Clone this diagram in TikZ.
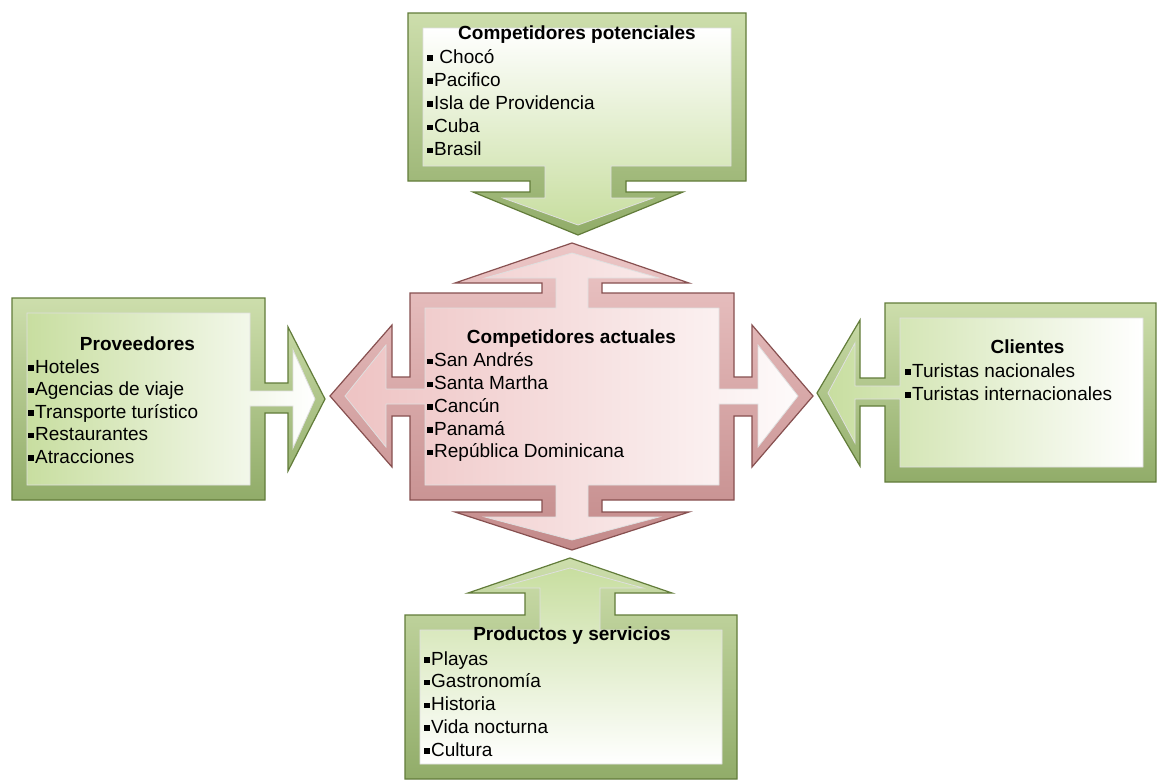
\documentclass[tikz,border=0pt]{standalone}
\usepackage{fontspec}
\setmainfont{Liberation Sans}
\definecolor{gFace}{RGB}{200,222,160}
\definecolor{gB1}{RGB}{205,222,172}
\definecolor{gB2}{RGB}{145,172,105}
\definecolor{gDark}{RGB}{98,124,58}
\definecolor{pFace}{RGB}{238,195,195}
\definecolor{pB1}{RGB}{236,198,198}
\definecolor{pB2}{RGB}{195,138,138}
\definecolor{pDark}{RGB}{135,80,80}
\newcommand{\bq}{\rule[2.5pt]{5.5pt}{5.5pt}\hspace{1.5pt}}
\tikzset{
  gout/.style={top color=gB1, bottom color=gB2, draw=gDark, line width=1.2pt, line join=miter},
  pout/.style={top color=pB1, bottom color=pB2, draw=pDark, line width=1.2pt, line join=miter},
  facebd/.style={draw=white!75!gray, line width=0.8pt, line join=miter},
  ttl/.style={font=\fontsize{19}{23}\selectfont\bfseries, anchor=base, inner sep=0pt},
  itm/.style={font=\fontsize{19}{23}\selectfont, anchor=base west, inner sep=0pt},
}
\begin{document}
\begin{tikzpicture}[x=1pt,y=-1pt]
\useasboundingbox[fill=white] (0,0) rectangle (1157,780);

% ---------- top callout: Competidores potenciales
\path[gout] (408,13) -- (746,13) -- (746,181) -- (626,181) -- (626,192) -- (683,192)
  -- (578,235) -- (473,192) -- (530,192) -- (530,181) -- (408,181) -- cycle;
\path[facebd, top color=white, bottom color=gFace] (423,28) -- (731,28) -- (731,166) -- (611,166)
  -- (611,198) -- (653,198) -- (578,225) -- (503,198) -- (545,198) -- (545,166) -- (423,166) -- cycle;

% ---------- left callout: Proveedores
\path[gout] (12,298) -- (265,298) -- (265,383) -- (288,383) -- (288,327) -- (325,399)
  -- (288,471) -- (288,413) -- (265,413) -- (265,500) -- (12,500) -- cycle;
\path[facebd, left color=gFace, right color=white] (27,313) -- (250,313) -- (250,391) -- (293,391)
  -- (293,350) -- (315,399) -- (293,448) -- (293,406) -- (250,406) -- (250,485) -- (27,485) -- cycle;

% ---------- right callout: Clientes
\path[gout] (885,303) -- (1156,303) -- (1156,482) -- (885,482) -- (885,406) -- (860,406)
  -- (860,466) -- (817,393) -- (860,320) -- (860,378) -- (885,378) -- cycle;
\path[facebd, left color=gFace, right color=white] (900,318) -- (1143,318) -- (1143,467) -- (900,467)
  -- (900,399) -- (855,399) -- (855,443) -- (828,393) -- (855,343) -- (855,386) -- (900,386) -- cycle;

% ---------- bottom callout: Productos y servicios
\path[gout] (405,615) -- (525,615) -- (525,593) -- (468,593) -- (570,558) -- (672,593)
  -- (615,593) -- (615,615) -- (737,615) -- (737,779) -- (405,779) -- cycle;
\path[facebd, top color=gFace, bottom color=white] (420,630) -- (540,630) -- (540,588) -- (497,588)
  -- (570,568) -- (643,588) -- (600,588) -- (600,630) -- (722,630) -- (722,764) -- (420,764) -- cycle;

% ---------- centre: Competidores actuales
\path[pout] (410,293) -- (542,293) -- (542,283) -- (455,283) -- (572,243) -- (689,283)
  -- (602,283) -- (602,293) -- (734,293) -- (734,377) -- (752,377) -- (752,325) -- (813,396)
  -- (752,467) -- (752,416) -- (734,416) -- (734,500) -- (602,500) -- (602,512) -- (689,512)
  -- (572,550) -- (455,512) -- (542,512) -- (542,500) -- (410,500) -- (410,416) -- (392,416)
  -- (392,467) -- (330,396) -- (392,325) -- (392,377) -- (410,377) -- cycle;
\path[facebd, left color=pFace, right color=white!92!pFace] (425,308) -- (556,308) -- (556,278) -- (485,278)
  -- (572,253) -- (659,278) -- (588,278) -- (588,308) -- (719,308) -- (719,389) -- (758,389)
  -- (758,345) -- (798,396) -- (758,447) -- (758,404) -- (719,404) -- (719,485) -- (588,485)
  -- (588,517) -- (659,517) -- (572,540) -- (485,517) -- (556,517) -- (556,485) -- (425,485)
  -- (425,404) -- (386,404) -- (386,447) -- (345,396) -- (386,345) -- (386,389) -- (425,389) -- cycle;

% ---------- texts
\node[ttl] (tT) at (577,39) {Competidores potenciales};
\node[itm] (t1) at (427,63) {\bq\ Chocó};
\node[itm] (t2) at (427,86.2) {\bq Pacifico};
\node[itm] (t3) at (427,109.4) {\bq Isla de Providencia};
\node[itm] (t4) at (427,132.6) {\bq Cuba};
\node[itm] (t5) at (427,155.8) {\bq Brasil};

\node[ttl] (cT) at (571.5,343) {Competidores actuales};
\node[itm] (c1) at (427,366.7) {\bq San Andrés};
\node[itm] (c2) at (427,389.5) {\bq Santa Martha};
\node[itm] (c3) at (427,412.3) {\bq Cancún};
\node[itm] (c4) at (427,435.1) {\bq Panamá};
\node[itm] (c5) at (427,457.9) {\bq República Dominicana};

\node[ttl] (lT) at (137.5,350) {Proveedores};
\node[itm] (l1) at (28,373.3) {\bq Hoteles};
\node[itm] (l2) at (28,395.8) {\bq Agencias de viaje};
\node[itm] (l3) at (28,418.3) {\bq Transporte turístico};
\node[itm] (l4) at (28,440.8) {\bq Restaurantes};
\node[itm] (l5) at (28,463.3) {\bq Atracciones};

\node[ttl] (rT) at (1027.5,353) {Clientes};
\node[itm] (r1) at (905,377.3) {\bq Turistas nacionales};
\node[itm] (r2) at (905,400) {\bq Turistas internacionales};

\node[ttl] (bT) at (572,640) {Productos y servicios};
\node[itm] (b1) at (424,665) {\bq Playas};
\node[itm] (b2) at (424,687.8) {\bq Gastronomía};
\node[itm] (b3) at (424,710.6) {\bq Historia};
\node[itm] (b4) at (424,733.4) {\bq Vida nocturna};
\node[itm] (b5) at (424,756.2) {\bq Cultura};
\end{tikzpicture}
\end{document}
